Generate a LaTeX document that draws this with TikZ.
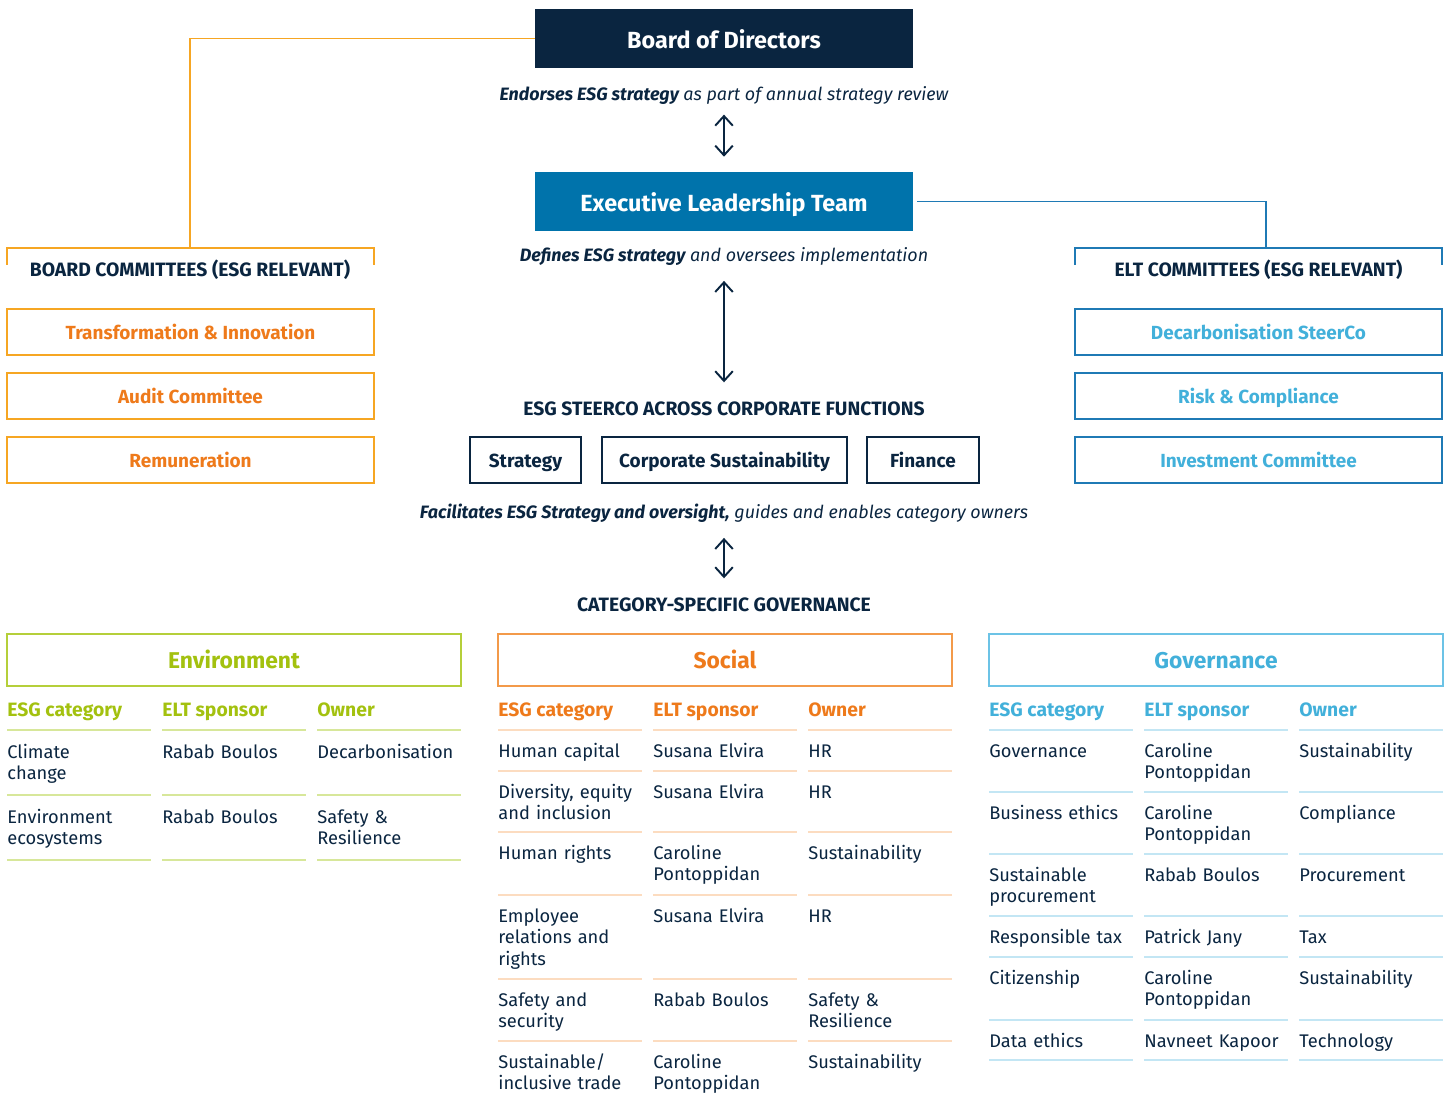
\documentclass[tikz,border=0pt]{standalone}
\usepackage{fontspec}
\setmainfont{Fira Sans}
\usetikzlibrary{arrows.meta,positioning}

\definecolor{navy}{HTML}{0A2540}
\definecolor{eltblue}{HTML}{0073AB}
\definecolor{bcline}{HTML}{F6A623}
\definecolor{bctext}{HTML}{EE7A1B}
\definecolor{ecline}{HTML}{1F7AB5}
\definecolor{ectext}{HTML}{42B0DA}
\definecolor{envtext}{HTML}{A3C10F}
\definecolor{envline}{HTML}{B5CF3A}
\definecolor{envrule}{HTML}{D7E79A}
\definecolor{soctext}{HTML}{EE7A1B}
\definecolor{socline}{HTML}{F39A4A}
\definecolor{socrule}{HTML}{FCDCC0}
\definecolor{govtext}{HTML}{42B0DA}
\definecolor{govline}{HTML}{6CC3E6}
\definecolor{govrule}{HTML}{C3E6F4}

\begin{document}
\begin{tikzpicture}[x=0.02cm, y=-0.02cm,
  every node/.style={inner sep=0pt, text=navy},
  topbox/.style={minimum width=7.56cm, minimum height=1.18cm, text=white, text height=12.4pt, text depth=1.2pt, font=\fontsize{13.3pt}{16pt}\selectfont\bfseries},
  capt/.style={text height=10.2pt, text depth=2pt, font=\fontsize{10.2pt}{12pt}\selectfont\itshape},
  comhead/.style={font=\fontsize{11pt}{13pt}\selectfont\bfseries},
  combox/.style={draw, line width=1pt, minimum width=7.34cm, minimum height=0.92cm, text height=9.5pt, text depth=1.2pt, font=\fontsize{10.8pt}{12pt}\selectfont\bfseries},
  funcbox/.style={draw=navy, line width=1pt, minimum height=0.92cm, text height=10pt, text depth=1.2pt, font=\fontsize{10.8pt}{12pt}\selectfont\bfseries},
  catbox/.style={draw, line width=1pt, minimum width=9.08cm, minimum height=1.04cm, text height=11.4pt, text depth=1.2pt, font=\fontsize{13pt}{15pt}\selectfont\bfseries},
  colhead/.style={anchor=base west, font=\fontsize{11pt}{13pt}\selectfont\bfseries},
  cell/.style={anchor=base west, text width=2.9cm, align=left, font=\fontsize{10.4pt}{12.2pt}\selectfont},
  biarrow/.style={<->, >={Straight Barb[length=5.5pt,width=10pt]}, line width=1.1pt, draw=navy},
  orangeline/.style={draw=bcline, line width=1pt},
  blueline/.style={draw=ecline, line width=1pt}]
  \useasboundingbox (0,0) rectangle (1451,1098);

  % board and ELT
  \node[topbox, fill=navy] (board) at (724,38.5) {Board of Directors};
  \node[capt] (endorse) at (724,93) {\textbf{Endorses ESG strategy} as part of annual strategy review};
  \node[topbox, fill=eltblue] (elt) at (724,201.5) {Executive Leadership Team};
  \node[capt] (defines) at (724,254) {\textbf{Defines ESG strategy} and oversees implementation};

  % board committees
  \coordinate (bcbrk) at (190,248);
  \draw[orangeline] (board.west) -| (bcbrk);
  \draw[orangeline] (7,265) |- (374,248) -- (374,265);
  \node[comhead] (bchead) at (190,270) {BOARD COMMITTEES (ESG RELEVANT)};
  \node[combox, draw=bcline, text=bctext] (bc1) at (190.5,332) {Transformation \& Innovation};
  \node[combox, draw=bcline, text=bctext] (bc2) at (190.5,396) {Audit Committee};
  \node[combox, draw=bcline, text=bctext] (bc3) at (190.5,460) {Remuneration};

  % ELT committees
  \coordinate (ecbrk) at (1266,248);
  \draw[blueline] ([xshift=2.3pt]elt.east) -| (ecbrk);
  \draw[blueline] (1075,265) |- (1442,248) -- (1442,265);
  \node[comhead] (echead) at (1258.5,270) {ELT COMMITTEES (ESG RELEVANT)};
  \node[combox, draw=ecline, text=ectext] (ec1) at (1258.5,332) {Decarbonisation SteerCo};
  \node[combox, draw=ecline, text=ectext] (ec2) at (1258.5,396) {Risk \& Compliance};
  \node[combox, draw=ecline, text=ectext] (ec3) at (1258.5,460) {Investment Committee};

  % steerco
  \node[comhead] (steerco) at (724,409) {ESG STEERCO ACROSS CORPORATE FUNCTIONS};
  \node[funcbox, minimum width=2.22cm] (strat) at (525.5,460) {Strategy};
  \node[funcbox, minimum width=4.9cm] (corpsus) at (724.5,460) {Corporate Sustainability};
  \node[funcbox, minimum width=2.24cm] (fin) at (923,460) {Finance};
  \node[capt] (facil) at (724,511) {\textbf{Facilitates ESG Strategy and oversight,} guides and enables category owners};
  \node[comhead] (catgov) at (724,605) {CATEGORY-SPECIFIC GOVERNANCE};

  \draw[biarrow, shorten <=6pt, shorten >=8.5pt] (endorse) -- (elt);
  \draw[biarrow, shorten <=9pt, shorten >=11pt] (defines) -- (steerco);
  \draw[biarrow, shorten <=9pt, shorten >=11pt] (facil) -- (catgov);

  % environment
  \node[catbox, draw=envline, text=envtext] (env) at (234,660) {Environment};
  \node[colhead, text=envtext] (env-c1) at (7,716) {ESG category};
  \node[colhead, text=envtext] (env-c2) at (162,716) {ELT sponsor};
  \node[colhead, text=envtext] (env-c3) at (317,716) {Owner};
  \foreach \y in {730,795,860} \foreach \x in {7,162,317} \draw[envrule, line width=1pt] (\x,\y) -- ++(144,0);
  \node[cell] (env-1a) at (7,758.5) {Climate\\change};
  \node[cell] (env-1b) at (162,758.5) {Rabab Boulos};
  \node[cell] (env-1c) at (317,758.5) {Decarbonisation};
  \node[cell] (env-2a) at (7,823.5) {Environment\\ecosystems};
  \node[cell] (env-2b) at (162,823.5) {Rabab Boulos};
  \node[cell] (env-2c) at (317,823.5) {Safety \&\\Resilience};

  % social
  \node[catbox, draw=socline, text=soctext] (soc) at (725,660) {Social};
  \node[colhead, text=soctext] (soc-c1) at (498,716) {ESG category};
  \node[colhead, text=soctext] (soc-c2) at (653,716) {ELT sponsor};
  \node[colhead, text=soctext] (soc-c3) at (808,716) {Owner};
  \foreach \y in {730,771,832,895,979,1041} \foreach \x in {498,653,808} \draw[socrule, line width=1pt] (\x,\y) -- ++(144,0);
  \node[cell] (soc-1a) at (498,757.5) {Human capital};
  \node[cell] (soc-1b) at (653,757.5) {Susana Elvira};
  \node[cell] (soc-1c) at (808,757.5) {HR};
  \node[cell] (soc-2a) at (498,798.5) {Diversity, equity\\and inclusion};
  \node[cell] (soc-2b) at (653,798.5) {Susana Elvira};
  \node[cell] (soc-2c) at (808,798.5) {HR};
  \node[cell] (soc-3a) at (498,859.5) {Human rights};
  \node[cell] (soc-3b) at (653,859.5) {Caroline\\Pontoppidan};
  \node[cell] (soc-3c) at (808,859.5) {Sustainability};
  \node[cell] (soc-4a) at (498,922.5) {Employee\\relations and\\rights};
  \node[cell] (soc-4b) at (653,922.5) {Susana Elvira};
  \node[cell] (soc-4c) at (808,922.5) {HR};
  \node[cell] (soc-5a) at (498,1006.5) {Safety and\\security};
  \node[cell] (soc-5b) at (653,1006.5) {Rabab Boulos};
  \node[cell] (soc-5c) at (808,1006.5) {Safety \&\\Resilience};
  \node[cell] (soc-6a) at (498,1068.5) {Sustainable/\\inclusive trade};
  \node[cell] (soc-6b) at (653,1068.5) {Caroline\\Pontoppidan};
  \node[cell] (soc-6c) at (808,1068.5) {Sustainability};

  % governance
  \node[catbox, draw=govline, text=govtext] (gov) at (1216,660) {Governance};
  \node[colhead, text=govtext] (gov-c1) at (989,716) {ESG category};
  \node[colhead, text=govtext] (gov-c2) at (1144,716) {ELT sponsor};
  \node[colhead, text=govtext] (gov-c3) at (1299,716) {Owner};
  \foreach \y in {730,792,854,916,957,1020,1060} \foreach \x in {989,1144,1299} \draw[govrule, line width=1pt] (\x,\y) -- ++(144,0);
  \node[cell] (gov-1a) at (989,757.5) {Governance};
  \node[cell] (gov-1b) at (1144,757.5) {Caroline\\Pontoppidan};
  \node[cell] (gov-1c) at (1299,757.5) {Sustainability};
  \node[cell] (gov-2a) at (989,819.5) {Business ethics};
  \node[cell] (gov-2b) at (1144,819.5) {Caroline\\Pontoppidan};
  \node[cell] (gov-2c) at (1299,819.5) {Compliance};
  \node[cell] (gov-3a) at (989,881.5) {Sustainable\\procurement};
  \node[cell] (gov-3b) at (1144,881.5) {Rabab Boulos};
  \node[cell] (gov-3c) at (1299,881.5) {Procurement};
  \node[cell] (gov-4a) at (989,943.5) {Responsible tax};
  \node[cell] (gov-4b) at (1144,943.5) {Patrick Jany};
  \node[cell] (gov-4c) at (1299,943.5) {Tax};
  \node[cell] (gov-5a) at (989,984.5) {Citizenship};
  \node[cell] (gov-5b) at (1144,984.5) {Caroline\\Pontoppidan};
  \node[cell] (gov-5c) at (1299,984.5) {Sustainability};
  \node[cell] (gov-6a) at (989,1047.5) {Data ethics};
  \node[cell] (gov-6b) at (1144,1047.5) {Navneet Kapoor};
  \node[cell] (gov-6c) at (1299,1047.5) {Technology};
\end{tikzpicture}
\end{document}
